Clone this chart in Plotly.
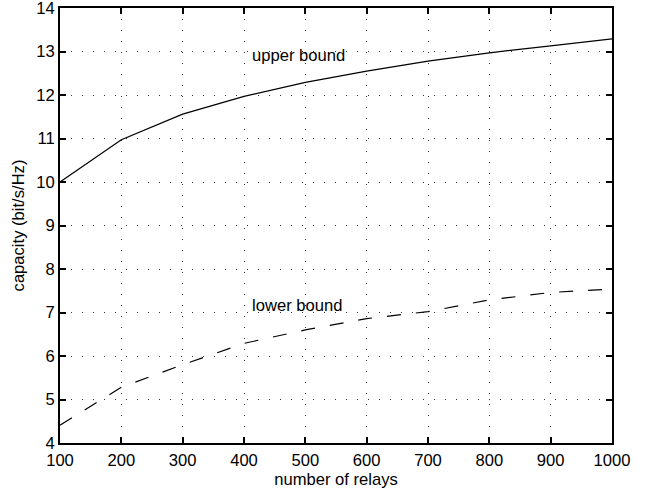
import plotly.graph_objects as go

relays = [100, 200, 300, 400, 500, 600, 700, 800, 900, 1000]
upper_bound = [10.0, 10.97, 11.56, 11.97, 12.29, 12.55, 12.78, 12.97, 13.13, 13.29]
lower_bound = [4.41, 5.28, 5.80, 6.29, 6.60, 6.86, 7.02, 7.29, 7.46, 7.54]
x_ticks = [100, 200, 300, 400, 500, 600, 700, 800, 900, 1000]
y_ticks = [4, 5, 6, 7, 8, 9, 10, 11, 12, 13, 14]

FONT = "Liberation Sans, Arial, Helvetica, sans-serif"
FS = 16.6

fig = go.Figure()
fig.add_trace(go.Scatter(x=relays, y=upper_bound, mode="lines",
                         line=dict(color="black", width=1.2), showlegend=False))
fig.add_trace(go.Scatter(x=relays, y=lower_bound, mode="lines",
                         line=dict(color="black", width=1.2, dash="14px,15px"), showlegend=False))

fig.add_annotation(x=410, y=12.9, text="upper bound", showarrow=False,
                   xanchor="left", yanchor="middle", font=dict(size=FS, color="black", family=FONT))
fig.add_annotation(x=410, y=7.17, text="lower bound", showarrow=False,
                   xanchor="left", yanchor="middle", font=dict(size=FS, color="black", family=FONT))

axis_common = dict(
    showline=True, linecolor="black", linewidth=2, mirror="allticks",
    ticks="inside", ticklen=6, tickwidth=1.5, tickcolor="black",
    showgrid=True, gridcolor="#333", gridwidth=1, griddash="1px,10px",
    zeroline=False, tickfont=dict(size=FS, color="black", family=FONT),
    automargin=False, ticklabeloverflow="allow",
)

fig.update_xaxes(range=[100, 1000], tickvals=x_ticks, ticktext=[str(v) for v in x_ticks],
                 ticklabelstandoff=1,
                 title=dict(text="number of relays", font=dict(size=FS, color="black", family=FONT), standoff=1),
                 **axis_common)
fig.update_yaxes(range=[4, 14], tickvals=y_ticks, ticktext=[str(v) for v in y_ticks],
                 title=dict(text="capacity (bit/s/Hz)", font=dict(size=FS, color="black", family=FONT), standoff=7),
                 **axis_common)

fig.update_layout(width=655, height=493, margin=dict(l=60, r=43, t=8, b=50),
                  plot_bgcolor="white", paper_bgcolor="white",
                  font=dict(family=FONT, color="black"))

fig.write_html("out.html", config={"displayModeBar": False},
               post_script="document.body.style.margin='0';document.body.style.overflow='hidden';")
